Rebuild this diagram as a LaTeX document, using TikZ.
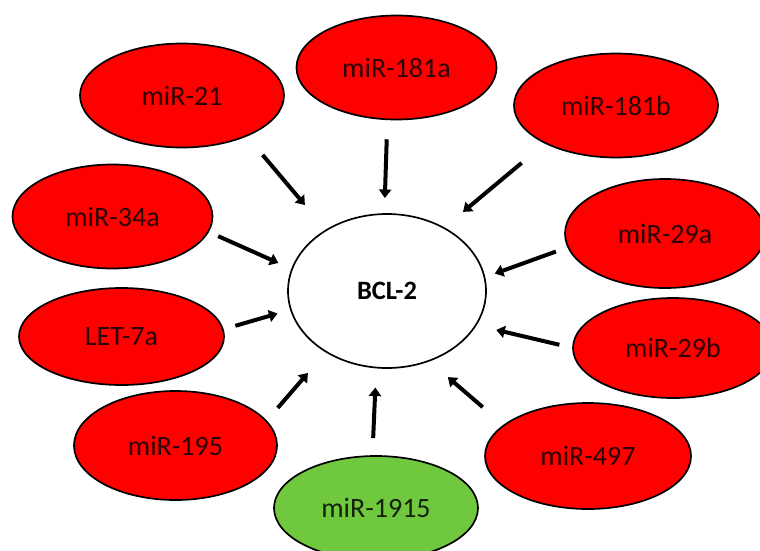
\documentclass[tikz,border=0pt]{standalone}
\usepackage{fontspec}
\setmainfont{Carlito}
\usetikzlibrary{shapes.geometric,arrows.meta}
\definecolor{mirred}{RGB}{255,0,0}
\definecolor{mirgreen}{RGB}{112,200,62}
\definecolor{labelred}{RGB}{45,4,4}
\definecolor{labelgreen}{RGB}{18,34,10}
\begin{document}
\begin{tikzpicture}[x=1pt,y=-1pt,
  mirna/.style={ellipse, draw=black, line width=1.7pt, fill=mirred, text=labelred,
    inner sep=0pt, outer sep=0pt, minimum width=204pt, minimum height=104pt,
    font=\fontsize{28}{32}\selectfont},
  target/.style={ellipse, draw=black, line width=1.7pt, fill=white,
    inner sep=0pt, outer sep=0pt, minimum width=198pt, minimum height=154pt,
    font=\fontsize{26.5}{30}\selectfont\bfseries},
  hit/.style={line width=4pt, -{Triangle[length=8.5pt,width=12pt]}}]
\useasboundingbox (0,0) rectangle (760,550);
\clip (0,0) rectangle (760,550);

% central target
\node[target] (bcl) at (387,291) {BCL-2};

% regulating microRNAs
\node[mirna] (m21)   at (182,95.5)  {miR-21};
\node[mirna, minimum width=200pt] (m181a) at (396.5,67.5) {miR-181a};
\node[mirna] (m181b) at (616,105.5) {miR-181b};
\node[mirna, minimum width=200pt] (m34a)  at (112.5,216.5) {miR-34a};
\node[mirna, minimum width=205pt, minimum height=97pt] (let7a) at (121.5,336.5) {LET-7a};
\node[mirna, minimum width=203pt, minimum height=109pt] (m195)  at (175.5,445.5) {miR-195};
\node[mirna, fill=mirgreen, text=labelgreen] (m1915) at (376,508) {miR-1915};
\node[mirna, minimum width=206pt, minimum height=106pt] (m497)  at (588,456) {miR-497};
\node[mirna, minimum width=200pt, minimum height=100pt] (m29b)  at (673,348) {miR-29b};
\node[mirna, minimum width=200pt, minimum height=109pt] (m29a)  at (665,233.5) {miR-29a};

% regulation arrows
\draw[hit, shorten <=25pt, shorten >=33pt] (m21.-32)   -- (bcl.135);
\draw[hit, shorten <=20pt, shorten >=16pt] (m181a.260) -- (bcl.92);
\draw[hit, shorten <=31pt, shorten >=25pt] (m181b.208) -- (bcl.48);
\draw[hit, shorten <=11pt, shorten >=15pt] (m34a.-9.5) -- (bcl.167);
\draw[hit, shorten <=13pt, shorten >=14pt] (let7a.4.5) -- (bcl.191);
\draw[hit, shorten <=17.5pt, shorten >=28pt] (m195.15.8) -- (bcl.225);
\draw[hit, shorten <=18pt, shorten >=20pt] (m1915.94)  -- (bcl.262);
\draw[hit, shorten <=28pt, shorten >=25pt] (m497.160.4) -- (bcl.301);
\draw[hit, shorten <=14pt, shorten >=21pt] (m29b.180)  -- (bcl.-21);
\draw[hit, shorten <=13pt, shorten >=11pt] (m29a.188.4) -- (bcl.8.4);
\end{tikzpicture}
\end{document}
